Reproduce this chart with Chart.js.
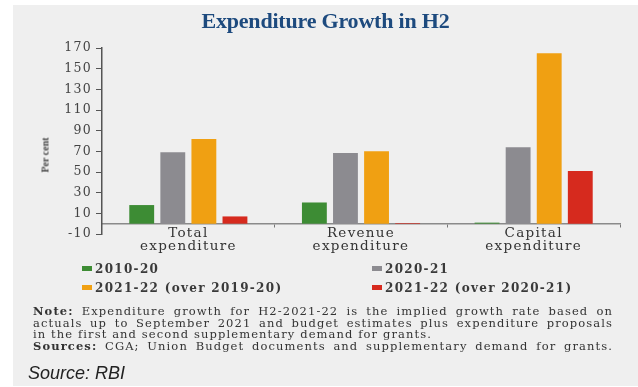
<!DOCTYPE html>
<html>
<head>
<meta charset="utf-8">
<script src="https://cdn.jsdelivr.net/npm/chart.js@4"></script>
<style>
  html,body{margin:0;padding:0;background:#fff;}
  #wrap{position:relative;width:638px;height:387px;overflow:hidden;}
  #panel{position:absolute;left:13px;top:5px;width:625px;height:381px;background:#efefef;}
  #chart-1{position:absolute;left:0;top:0;}
  .title{position:absolute;left:13px;width:625px;top:8px;text-align:center;font:bold 22px "Liberation Serif",serif;color:#1d4a7e;letter-spacing:-0.2px;}
  .ylab{position:absolute;left:45px;top:155px;transform:translate(-50%,-50%) rotate(-90deg);font:bold 10px "Liberation Serif",serif;color:#444;white-space:nowrap;}
  .leg{position:absolute;font:bold 12px "DejaVu Serif",serif;color:#3a3a3a;white-space:nowrap;letter-spacing:1.3px;}
  .leg i{display:inline-block;width:10px;height:5px;margin-right:3px;vertical-align:middle;position:relative;top:-1px;}
  .note{position:absolute;left:33px;width:580px;font:11.5px "DejaVu Serif",serif;color:#333;line-height:11.7px;letter-spacing:1.1px;}
  .note div{text-align:justify;text-align-last:justify;white-space:nowrap;}
  .note div.l{text-align-last:left;}
  .src{position:absolute;left:28px;top:363px;font:italic 18px "Liberation Sans",sans-serif;color:#222;}
</style>
</head>
<body>
<div id="wrap">
  <div id="panel"></div>
  <canvas id="chart-1" width="638" height="387"></canvas>
  <div class="title">Expenditure Growth in H2</div>
  <div class="ylab">Per cent</div>
  <div class="leg" style="left:82px;top:262px"><i style="background:#3d8c34"></i>2010-20</div>
  <div class="leg" style="left:372px;top:262px"><i style="background:#8c8b90"></i>2020-21</div>
  <div class="leg" style="left:82px;top:281px"><i style="background:#f0a012"></i>2021-22 (over 2019-20)</div>
  <div class="leg" style="left:372px;top:281px"><i style="background:#d62a1e"></i>2021-22 (over 2020-21)</div>
  <div class="note" style="top:306px">
    <div><b>Note:</b> Expenditure growth for H2-2021-22 is the implied growth rate based on</div>
    <div>actuals up to September 2021 and budget estimates plus expenditure proposals</div>
    <div class="l">in the first and second supplementary demand for grants.</div>
    <div><b>Sources:</b> CGA; Union Budget documents and supplementary demand for grants.</div>
  </div>
  <div class="src">Source: RBI</div>
</div>
<script>
const categories=[['Total','expenditure'],['Revenue','expenditure'],['Capital','expenditure']];
const fy1920=[18,20.5,1];
const fy2021=[69,68.5,74];
const fy2122over1920=[82,70,165];
const fy2122over2021=[7,0.6,51];
const yTicks={min:-10,max:170,step:20};

// wide-set axis lettering
const spacedText={id:'spacedText',beforeDraw(chart){chart.ctx.letterSpacing='1.3px';}};

document.addEventListener('DOMContentLoaded',()=>{
  const ctx=document.getElementById('chart-1');
  if(!ctx||!window.Chart) return;
  const bar=(label,data,color)=>({label,data,backgroundColor:color,borderWidth:0,
    categoryPercentage:.72,barPercentage:.8});
  const data={
    labels:categories,
    datasets:[
      bar('2010-20',fy1920,'#3d8c34'),
      bar('2020-21',fy2021,'#8c8b90'),
      bar('2021-22 (over 2019-20)',fy2122over1920,'#f0a012'),
      bar('2021-22 (over 2020-21)',fy2122over2021,'#d62a1e')
    ]
  };
  const options={
    responsive:false,
    animation:false,
    layout:{padding:{top:48,right:18,bottom:153,left:0}},
    plugins:{legend:{display:false},tooltip:{enabled:false}},
    scales:{
      x:{
        position:{y:0},
        grid:{drawOnChartArea:false,offset:true,tickLength:3,tickColor:'#777'},
        border:{color:'#8a8a8a',width:1.5},
        ticks:{color:'#333',padding:0,font:{family:'DejaVu Serif',size:13.5,lineHeight:0.97},maxRotation:0}
      },
      y:{
        min:yTicks.min,max:yTicks.max,
        afterFit:s=>{s.width=102;},
        grid:{drawOnChartArea:false,tickLength:6,tickColor:'#555'},
        border:{color:'#555',width:1.5},
        ticks:{stepSize:yTicks.step,color:'#444',padding:4,font:{family:'DejaVu Serif',size:12.5}}
      }
    }
  };
  new Chart(ctx.getContext('2d'),{type:'bar',data,options,plugins:[spacedText]});
});
</script>
</body>
</html>
